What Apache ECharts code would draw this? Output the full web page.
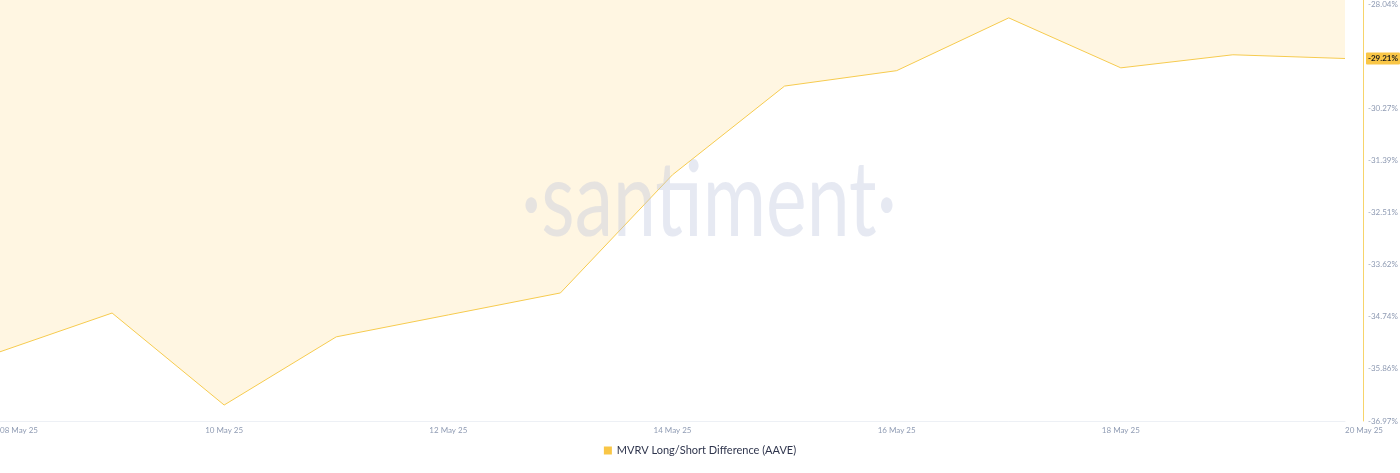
<!DOCTYPE html>
<html>
<head>
<meta charset="utf-8">
<script src="https://cdn.jsdelivr.net/npm/echarts@6/dist/echarts.min.js"></script>
<style>
html,body{margin:0;padding:0;background:#fff;}
#c{width:1400px;height:473px;}
</style>
</head>
<body>
<div id="c"></div>
<script>
const dates = ['08 May 25','09 May 25','10 May 25','11 May 25','12 May 25','13 May 25','14 May 25','15 May 25','16 May 25','17 May 25','18 May 25','19 May 25','20 May 25'];
const mvrvValues = [-35.49, -34.66, -36.63, -35.17, -34.70, -34.23, -31.70, -29.80, -29.47, -28.34, -29.41, -29.13, -29.21];
const yTickValues = [-36.972, -35.8558, -34.7396, -33.6234, -32.5072, -31.391, -30.2748, -29.1586, -28.0424];
const yMin = -36.972, yMax = -27.957;
const seriesName = 'MVRV Long/Short Difference (AAVE)';
const lastValue = mvrvValues[mvrvValues.length - 1];

const chart = echarts.init(document.getElementById('c'));
const labelColor = '#8f9bb3';
chart.setOption({
  animation: false,
  grid: {left: 0, right: 55, top: 0, bottom: 52, containLabel: false, outerBoundsMode: 'none'},
  legend: {
    bottom: 12, left: 'center', itemWidth: 8, itemHeight: 8, itemGap: 6,
    icon: 'rect',
    textStyle: {fontFamily: 'Lato, "Open Sans", sans-serif', fontSize: 11, color: '#2f354d'},
    data: [seriesName]
  },
  xAxis: {
    type: 'category', data: dates, boundaryGap: false,
    axisLine: {show: true, lineStyle: {color: '#edf0f5', width: 1}},
    axisTick: {show: false},
    axisLabel: {interval: 1, color: labelColor, fontSize: 8, fontFamily: 'Lato, "Open Sans", sans-serif', margin: 5, alignMinLabel: 'left', alignMaxLabel: 'left', showMinLabel: true, showMaxLabel: true},
    splitLine: {show: false}
  },
  yAxis: {
    type: 'value', position: 'right', offset: 18,
    min: yMin, max: yMax,
    axisLine: {show: true, lineStyle: {color: '#f7d46b', width: 1}},
    axisTick: {show: false},
    splitLine: {show: false},
    axisLabel: {
      customValues: yTickValues,
      color: labelColor, fontSize: 8, fontFamily: 'Lato, "Open Sans", sans-serif', margin: 5,
      formatter: v => v.toFixed(2) + '%'
    },
    axisPointer: {
      show: true, value: lastValue, status: 'show', triggerTooltip: false,
      lineStyle: {opacity: 0},
      label: {
        show: true, formatter: p => p.value.toFixed(2) + '%',
        backgroundColor: '#f9c646', color: '#1a1a1a', fontSize: 8, fontWeight: 'bold',
        fontFamily: 'Lato, "Open Sans", sans-serif', padding: [2, 2, 2, 2], margin: 3, borderRadius: 1
      }
    }
  },
  series: [{
    name: seriesName, type: 'line', data: mvrvValues,
    symbol: 'none', smooth: false,
    itemStyle: {color: '#f9c646'},
    lineStyle: {color: '#f6cb4f', width: 1},
    areaStyle: {origin: 'end', color: '#fff6e2', opacity: 1}
  }],
  graphic: [{
    type: 'text', x: 709, y: 202, scaleX: 0.74, z: 100, silent: true,
    style: {
      x: 0, y: 0, align: 'center', verticalAlign: 'middle',
      text: '·santiment·', fontSize: 104, fontFamily: 'Lato, "Open Sans", sans-serif', fontWeight: 'normal',
      fill: 'rgba(190,198,222,0.38)'
    }
  }]
});
</script>
</body>
</html>
